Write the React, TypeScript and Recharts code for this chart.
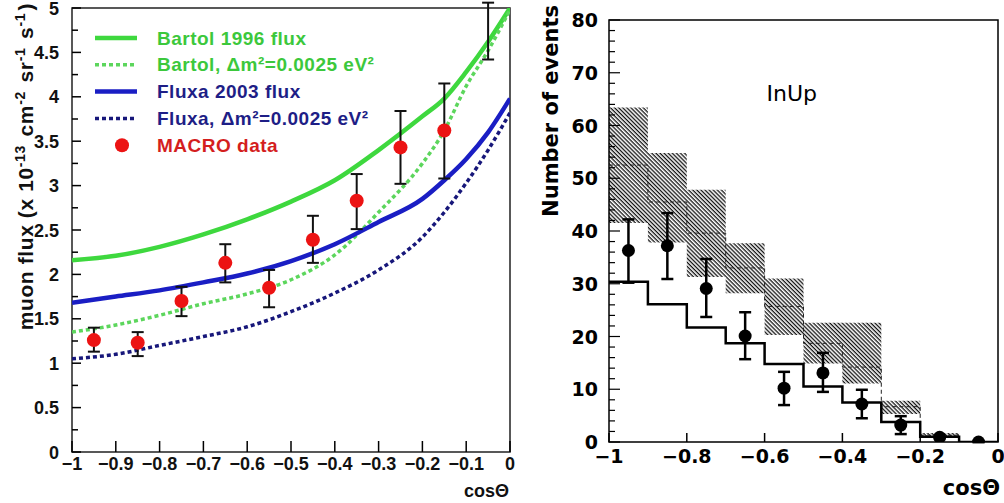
import React from "react";
import {
  ComposedChart,
  Line,
  Area,
  Scatter,
  ErrorBar,
  XAxis,
  YAxis,
  Legend,
  ReferenceArea,
  Label,
} from "recharts";

// ---- left panel: muon flux vs cos(theta) ----
const cosGrid = [-1, -0.9, -0.8, -0.7, -0.6, -0.5, -0.4, -0.3, -0.2, -0.15, -0.1, -0.05, 0];
const bartolFlux = [2.16, 2.21, 2.31, 2.45, 2.62, 2.82, 3.06, 3.4, 3.78, 3.98, 4.28, 4.62, 5.0];
const bartolOsc = [1.35, 1.43, 1.54, 1.67, 1.78, 1.94, 2.22, 2.7, 3.25, 3.62, 4.12, 4.52, 4.98];
const fluxaFlux = [1.68, 1.75, 1.82, 1.91, 2.01, 2.15, 2.34, 2.59, 2.85, 3.06, 3.3, 3.6, 3.98];
const fluxaOsc = [1.05, 1.1, 1.2, 1.3, 1.41, 1.58, 1.79, 2.05, 2.42, 2.7, 3.03, 3.4, 3.82];

const cosBins = [-0.95, -0.85, -0.75, -0.65, -0.55, -0.45, -0.35, -0.25, -0.15, -0.05];
const macroFlux = [1.26, 1.23, 1.7, 2.13, 1.85, 2.39, 2.83, 3.43, 3.62, 5.12];
const macroLow = [1.13, 1.08, 1.53, 1.91, 1.63, 2.13, 2.51, 3.02, 3.08, 4.42];
const macroHigh = [1.4, 1.35, 1.86, 2.34, 2.05, 2.66, 3.13, 3.84, 4.15, 5.06];

const leftXTicks = [-1, -0.9, -0.8, -0.7, -0.6, -0.5, -0.4, -0.3, -0.2, -0.1, 0];
const leftYTicks = [0, 0.25, 0.5, 0.75, 1, 1.25, 1.5, 1.75, 2, 2.25, 2.5, 2.75, 3, 3.25, 3.5, 3.75, 4, 4.25, 4.5, 4.75, 5];

// ---- right panel: InUp events ----
const binEdges = [-1, -0.9, -0.8, -0.7, -0.6, -0.5, -0.4, -0.3, -0.2, -0.1, 0];
const bandLow = [41.5, 37.8, 31.3, 28.2, 20.3, 14.9, 11.1, 5.3, 1.0];
const bandHigh = [63.4, 54.8, 47.8, 37.7, 31.0, 22.6, 22.6, 7.8, 1.7];
const bandMid = [52.5, 45.5, 39.6, 33.0, 25.7, 18.7, 14.2, 6.7, 1.3];
const noOscMC = [30.4, 26.1, 21.7, 18.7, 14.8, 10.5, 7.5, 3.8, 1.0, 0];

const eventBins = [-0.95, -0.85, -0.75, -0.65, -0.55, -0.45, -0.35, -0.25, -0.15, -0.05];
const events = [36.3, 37.2, 29.1, 20.1, 10.2, 13.1, 7.2, 3.2, 0.9, 0];
const eventsLow = [30.2, 30.9, 23.7, 15.7, 7.0, 9.5, 4.5, 1.5, 0.9, 0];
const eventsHigh = [42.2, 43.4, 34.7, 24.6, 13.3, 16.9, 9.9, 4.9, 0.9, 0];

const rightXTicks = [-1, -0.8, -0.6, -0.4, -0.2, 0];
const rightYLabels = [0, 10, 20, 30, 40, 50, 60, 70, 80];
const rightYTicks = Array.from({ length: 41 }, (_, i) => i * 2);

const GREEN = "#3ed83e";
const GREEN_DASH = "#5cd65c";
const BLUE = "#1a1ec4";
const NAVY = "#17177a";
const RED = "#ec1313";

const LEFT_FONT = "'Liberation Sans', Arial, sans-serif";
const RIGHT_FONT = "'DejaVu Sans', sans-serif";

const curveRows = (vals: number[]) => cosGrid.map((x, i) => ({ x, y: vals[i] }));
const macroRows = cosBins.map((x, i) => ({
  x,
  y: macroFlux[i],
  err: [macroFlux[i] - macroLow[i], macroHigh[i] - macroFlux[i]],
}));

const bandRows = binEdges.slice(0, bandLow.length + 1).map((x, i) => {
  const k = Math.min(i, bandLow.length - 1);
  return { x, band: [bandLow[k], bandHigh[k]], mid: bandMid[k] };
});
const mcRows = binEdges.map((x, i) => ({ x, mc: noOscMC[Math.min(i, noOscMC.length - 1)] }));
const eventRows = eventBins.map((x, i) => ({
  x,
  y: events[i],
  err: [events[i] - eventsLow[i], eventsHigh[i] - events[i]],
}));

const legendRows = [
  { label: "Bartol 1996 flux", color: GREEN, text: "#3cc83c", dash: false, dot: false },
  { label: "Bartol, \u0394m\u00b2=0.0025 eV\u00b2", color: GREEN_DASH, text: "#3cc83c", dash: true, dot: false },
  { label: "Fluxa 2003 flux", color: BLUE, text: "#1e1e86", dash: false, dot: false },
  { label: "Fluxa, \u0394m\u00b2=0.0025 eV\u00b2", color: NAVY, text: "#1e1e86", dash: true, dot: false },
  { label: "MACRO data", color: RED, text: "#d41e1e", dash: false, dot: true },
];

const minus = "\u2212";
const fmtCos = (v: number) =>
  v === 0 ? "0" : Number.isInteger(v) ? minus + Math.abs(v) : minus + Math.abs(v).toFixed(1);
const fmtFlux = (v: number) => (Number.isInteger(v) ? String(v) : v.toFixed(1));

const LeftXTick = ({ x, y, payload }: any) => (
  <g>
    <line x1={x} y1={y} x2={x} y2={y - 11} stroke="#000" strokeWidth={1.5} />
    <text x={x} y={y + 18} textAnchor="middle" fontSize={18} fontWeight="bold" fontFamily={LEFT_FONT} fill="#111">
      {fmtCos(payload.value)}
    </text>
  </g>
);

const LeftYTick = ({ x, y, payload }: any) => {
  const v = payload.value;
  const major = Math.abs(v * 2 - Math.round(v * 2)) < 1e-6;
  return (
    <g>
      <line x1={x} y1={y} x2={x + (major ? 9 : 6)} y2={y} stroke="#000" strokeWidth={1.5} />
      {major && (
        <text x={x - 13} y={y + 6.5} textAnchor="end" fontSize={18} fontWeight="bold" fontFamily={LEFT_FONT} fill="#111">
          {fmtFlux(v)}
        </text>
      )}
    </g>
  );
};

const RightXTick = ({ x, y, payload }: any) => (
  <g>
    <line x1={x} y1={y} x2={x} y2={y - 9} stroke="#000" strokeWidth={1.5} />
    <text x={x} y={y + 21} textAnchor="middle" fontSize={19} fontWeight="bold" fontFamily={RIGHT_FONT} fill="#000">
      {fmtCos(payload.value)}
    </text>
  </g>
);

const RightYTick = ({ x, y, payload }: any) => {
  const v = payload.value;
  const major = rightYLabels.includes(v);
  return (
    <g>
      <line x1={x} y1={y} x2={x + (major ? 11 : 6)} y2={y} stroke="#000" strokeWidth={1.2} />
      {major && (
        <text x={x - 11} y={y + 7} textAnchor="end" fontSize={19} fontWeight="bold" fontFamily={RIGHT_FONT} fill="#000">
          {v}
        </text>
      )}
    </g>
  );
};

const sup = (s: string) => [
  <tspan key={s + "a"} dy={-8} fontSize={14}>
    {s}
  </tspan>,
  <tspan key={s + "b"} dy={8}>
    {"\u200a"}
  </tspan>,
];

const LeftYTitle = (props: any) => {
  const vb = props.viewBox || { x: 0, y: 8 };
  const tx = vb.x + 33;
  const ty = 3;
  return (
    <text
      x={tx}
      y={ty}
      transform={`rotate(-90 ${tx} ${ty})`}
      textAnchor="end"
      fontSize={21}
      letterSpacing={0.6}
      fontWeight="bold"
      fontFamily={LEFT_FONT}
      fill="#111"
    >
      muon flux (x 10{sup("-13")} cm{sup("-2")} sr{sup("-1")} s{sup("-1")})
    </text>
  );
};

const LeftXTitle = (props: any) => {
  const vb = props.viewBox;
  return (
    <text x={vb.x + vb.width - 1} y={vb.y + 45} textAnchor="end" fontSize={18} fontWeight="bold" fontFamily={LEFT_FONT} fill="#111">
      cos{"\u0398"}
    </text>
  );
};

const RightYTitle = (props: any) => {
  const vb = props.viewBox || { x: 0 };
  const tx = vb.x + 38;
  const ty = 5;
  return (
    <text
      x={tx}
      y={ty}
      transform={`rotate(-90 ${tx} ${ty})`}
      textAnchor="end"
      fontSize={21}
      fontWeight="bold"
      fontFamily={RIGHT_FONT}
      fill="#000"
    >
      Number of events
    </text>
  );
};

const RightXTitle = (props: any) => {
  const vb = props.viewBox;
  return (
    <text x={vb.x + vb.width + 2} y={vb.y + 53} textAnchor="end" fontSize={21} fontWeight="bold" fontFamily={RIGHT_FONT} fill="#000">
      cos{"\u0398"}
    </text>
  );
};

const InUpLabel = (props: any) => {
  const vb = props.viewBox;
  return (
    <text x={vb.x + vb.width * 0.47} y={vb.y + 81} textAnchor="middle" fontSize={22} fontFamily={RIGHT_FONT} fill="#000">
      InUp
    </text>
  );
};

const FluxLegend = () => (
  <svg width={340} height={140}>
    {legendRows.map((r, i) => {
      const cy = 18 + i * 26.8;
      return (
        <g key={r.label}>
          {r.dot ? (
            <circle cx={32} cy={cy} r={7} fill={r.color} />
          ) : (
            <line
              x1={5}
              y1={cy}
              x2={47}
              y2={cy}
              stroke={r.color}
              strokeWidth={r.dash ? 3.5 : 4.5}
              strokeDasharray={r.dash ? "4 3" : undefined}
            />
          )}
          <text x={67} y={cy + 6.5} fontSize={19} letterSpacing={0.5} fontWeight="bold" fontFamily={LEFT_FONT} fill={r.text}>
            {r.label}
          </text>
        </g>
      );
    })}
  </svg>
);

const FluxPanel = () => (
  <ComposedChart width={520} height={503} margin={{ top: 8, right: 10, bottom: 0, left: 0 }}>
    <XAxis
      dataKey="x"
      type="number"
      domain={[-1, 0]}
      allowDataOverflow
      ticks={leftXTicks}
      interval={0}
      axisLine={false}
      tickLine={false}
      tickSize={0}
      tickMargin={0}
      height={51}
      tick={<LeftXTick />}
    >
      <Label content={LeftXTitle} />
    </XAxis>
    <YAxis
      type="number"
      domain={[0, 5]}
      allowDataOverflow
      ticks={leftYTicks}
      interval={0}
      axisLine={false}
      tickLine={false}
      tickSize={0}
      tickMargin={0}
      width={72}
      tick={<LeftYTick />}
    >
      <Label content={LeftYTitle} />
    </YAxis>
    <Legend
      layout="vertical"
      align="center"
      verticalAlign="middle"
      content={<FluxLegend />}
      wrapperStyle={{ left: 90, top: 20, width: 340, height: 140 }}
    />
    <Line data={curveRows(bartolFlux)} dataKey="y" type="monotone" stroke={GREEN} strokeWidth={4.5} dot={false} isAnimationActive={false} />
    <Line data={curveRows(bartolOsc)} dataKey="y" type="monotone" stroke={GREEN_DASH} strokeWidth={3.5} strokeDasharray="4 3" dot={false} isAnimationActive={false} />
    <Line data={curveRows(fluxaFlux)} dataKey="y" type="monotone" stroke={BLUE} strokeWidth={4.5} dot={false} isAnimationActive={false} />
    <Line data={curveRows(fluxaOsc)} dataKey="y" type="monotone" stroke={NAVY} strokeWidth={3.5} strokeDasharray="4 3" dot={false} isAnimationActive={false} />
    <Scatter
      data={macroRows}
      dataKey="y"
      isAnimationActive={false}
      shape={(p: any) => <circle cx={p.cx} cy={p.cy} r={7} fill={RED} />}
    >
      <ErrorBar dataKey="err" direction="y" width={6} stroke="#111" strokeWidth={2} isAnimationActive={false} />
    </Scatter>
    <ReferenceArea x1={-1} x2={0} y1={0} y2={5} fill="none" fillOpacity={0} stroke="#222" strokeWidth={1.5} />
  </ComposedChart>
);

const EventsPanel = () => (
  <ComposedChart width={484} height={503} margin={{ top: 20, right: 6, bottom: 0, left: 0 }}>
    <defs>
      <pattern id="hatch" patternUnits="userSpaceOnUse" width={2.9} height={2.9} patternTransform="rotate(45)">
        <rect x={0} y={0} width={2.9} height={1.3} fill="#111" />
      </pattern>
    </defs>
    <XAxis
      dataKey="x"
      type="number"
      domain={[-1, 0]}
      allowDataOverflow
      ticks={rightXTicks}
      interval={0}
      axisLine={false}
      tickLine={false}
      tickSize={0}
      tickMargin={0}
      height={61}
      tick={<RightXTick />}
    >
      <Label content={RightXTitle} />
    </XAxis>
    <YAxis
      type="number"
      domain={[0, 80]}
      allowDataOverflow
      ticks={rightYTicks}
      interval={0}
      axisLine={false}
      tickLine={false}
      tickSize={0}
      tickMargin={0}
      width={89}
      tick={<RightYTick />}
    >
      <Label content={RightYTitle} />
    </YAxis>
    <Area data={bandRows} dataKey="band" type="stepAfter" fill="url(#hatch)" fillOpacity={1} stroke="none" isAnimationActive={false} />
    <Line data={bandRows} dataKey="mid" type="stepAfter" stroke="#222" strokeWidth={1} strokeDasharray="4 3" dot={false} isAnimationActive={false} />
    <Line data={mcRows} dataKey="mc" type="stepAfter" stroke="#000" strokeWidth={2.5} dot={false} isAnimationActive={false} />
    <Scatter
      data={eventRows}
      dataKey="y"
      isAnimationActive={false}
      shape={(p: any) => <circle cx={p.cx} cy={p.cy} r={6.5} fill="#000" />}
    >
      <ErrorBar dataKey="err" direction="y" width={6} stroke="#000" strokeWidth={2.5} isAnimationActive={false} />
    </Scatter>
    <ReferenceArea x1={-1} x2={0} y1={0} y2={80} fill="none" fillOpacity={0} stroke="#000" strokeWidth={1.5}>
      <Label content={InUpLabel} />
    </ReferenceArea>
  </ComposedChart>
);

export default function App() {
  return (
    <div style={{ position: "absolute", left: 0, top: 0, width: 1004, height: 503, background: "#fff" }}>
      <div style={{ position: "absolute", left: 0, top: 0 }}>
        <FluxPanel />
      </div>
      <div style={{ position: "absolute", left: 520, top: 0 }}>
        <EventsPanel />
      </div>
    </div>
  );
}
